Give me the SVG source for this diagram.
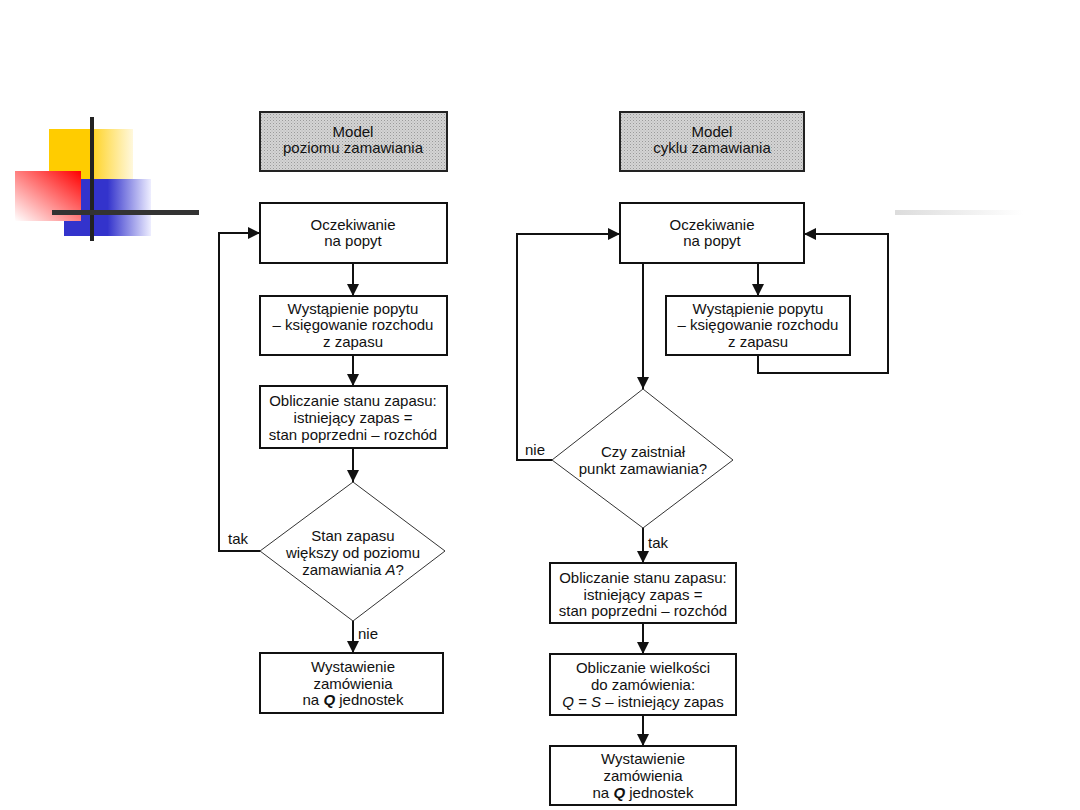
<svg xmlns="http://www.w3.org/2000/svg" width="1080" height="810" viewBox="0 0 1080 810">
<defs>
<style>
.box{fill:#fff;stroke:#111;stroke-width:2}
.hdr{fill:url(#stip);stroke:#222;stroke-width:2}
.ln{fill:none;stroke:#111;stroke-width:2}
text{font-family:"Liberation Sans",Arial,sans-serif;font-size:15px;fill:#111;text-anchor:middle}
.lbl{text-anchor:start}
</style>
<pattern id="stip" width="3" height="3" patternUnits="userSpaceOnUse">
<rect width="3" height="3" fill="#d4d4d4"/>
<rect width="1" height="1" fill="#9a9a9a"/>
<rect x="1.5" y="1.5" width="1" height="1" fill="#b0b0b0"/>
</pattern>
<marker id="ah" viewBox="0 0 10 10" refX="10" refY="5" markerWidth="6" markerHeight="6" orient="auto" markerUnits="strokeWidth">
<path d="M0,0 L10,5 L0,10 z" fill="#111"/>
</marker>
<linearGradient id="gy" x1="0" y1="0" x2="1" y2="0">
<stop offset="0" stop-color="#ffcc00"/><stop offset="0.5" stop-color="#ffcc00"/><stop offset="0.55" stop-color="#ffd633"/><stop offset="1" stop-color="#fff8dd"/>
</linearGradient>
<linearGradient id="gr" x1="1" y1="0" x2="0" y2="1">
<stop offset="0" stop-color="#ff0000"/><stop offset="1" stop-color="#ffffff"/>
</linearGradient>
<linearGradient id="gb" x1="0" y1="0" x2="1" y2="0">
<stop offset="0" stop-color="#3333cc"/><stop offset="0.5" stop-color="#3333cc"/><stop offset="1" stop-color="#eeeeff"/>
</linearGradient>
<linearGradient id="gg" x1="0" y1="0" x2="1" y2="0">
<stop offset="0" stop-color="#dcdcdc"/><stop offset="1" stop-color="#ffffff"/>
</linearGradient>
</defs>
<rect width="1080" height="810" fill="#fff"/>
<g id="decor">
<rect x="49" y="129" width="84" height="50" fill="url(#gy)"/>
<rect x="64" y="179" width="87" height="57" fill="url(#gb)"/>
<rect x="15" y="171" width="66" height="50" fill="url(#gr)"/>
<rect x="90" y="117" width="4" height="124" fill="#222"/>
<rect x="52" y="210" width="147" height="5" fill="#333"/>
<rect x="895" y="210" width="128" height="5" fill="url(#gg)"/>
</g>
<g id="connectors">
<line class="ln" x1="353" y1="263" x2="353" y2="296" marker-end="url(#ah)"/>
<line class="ln" x1="353" y1="355" x2="353" y2="386" marker-end="url(#ah)"/>
<line class="ln" x1="353" y1="448" x2="353" y2="482" marker-end="url(#ah)"/>
<polyline class="ln" points="260,551 219,551 219,233 260,233" marker-end="url(#ah)"/>
<line class="ln" x1="353" y1="621" x2="353" y2="653" marker-end="url(#ah)"/>
<line class="ln" x1="758" y1="263" x2="758" y2="296" marker-end="url(#ah)"/>
<polyline class="ln" points="758,355 758,373 888,373 888,234 804,234" marker-end="url(#ah)"/>
<line class="ln" x1="643" y1="263" x2="643" y2="389" marker-end="url(#ah)"/>
<polyline class="ln" points="552,460 517,460 517,234 620,234" marker-end="url(#ah)"/>
<line class="ln" x1="643" y1="528" x2="643" y2="563" marker-end="url(#ah)"/>
<line class="ln" x1="643" y1="623" x2="643" y2="654" marker-end="url(#ah)"/>
<line class="ln" x1="643" y1="715" x2="643" y2="746" marker-end="url(#ah)"/>
<text class="lbl" x="228" y="544">tak</text>
<text class="lbl" x="358" y="639">nie</text>
<text class="lbl" x="525" y="455">nie</text>
<text class="lbl" x="648" y="548">tak</text>
</g>
<g id="L_header">
<rect class="hdr" x="260" y="112" width="187" height="59"/>
<text x="353" y="137">Model</text><text x="353" y="153">poziomu zamawiania</text>
</g>
<g id="L_wait">
<rect class="box" x="260" y="203" width="187" height="60"/>
<text x="353" y="230">Oczekiwanie</text><text x="353" y="246">na popyt</text>
</g>
<g id="L_demand">
<rect class="box" x="260" y="296" width="187" height="59"/>
<text x="353" y="314">Wystąpienie popytu</text><text x="353" y="330">– księgowanie rozchodu</text><text x="353" y="347">z zapasu</text>
</g>
<g id="L_calc">
<rect class="box" x="260" y="386" width="187" height="62"/>
<text x="353" y="406">Obliczanie stanu zapasu:</text><text x="353" y="423">istniejący zapas =</text><text x="353" y="440">stan poprzedni – rozchód</text>
</g>
<g id="L_decision">
<polygon points="353,482 445,551 353,621 260,551" fill="#fff" stroke="#333" stroke-width="1"/>
<text x="353" y="541">Stan zapasu</text><text x="353" y="558">większy od poziomu</text><text x="353" y="575">zamawiania <tspan font-style="italic">A</tspan>?</text>
</g>
<g id="L_order">
<rect class="box" x="260" y="653" width="183" height="60"/>
<text x="353" y="672">Wystawienie</text><text x="353" y="689">zamówienia</text><text x="353" y="705">na <tspan font-style="italic" font-weight="bold">Q</tspan> jednostek</text>
</g>
<g id="R_header">
<rect class="hdr" x="620" y="112" width="184" height="59"/>
<text x="712" y="137">Model</text><text x="712" y="153">cyklu zamawiania</text>
</g>
<g id="R_wait">
<rect class="box" x="620" y="203" width="184" height="60"/>
<text x="712" y="230">Oczekiwanie</text><text x="712" y="246">na popyt</text>
</g>
<g id="R_demand">
<rect class="box" x="666" y="296" width="184" height="59"/>
<text x="758" y="314">Wystąpienie popytu</text><text x="758" y="330">– księgowanie rozchodu</text><text x="758" y="347">z zapasu</text>
</g>
<g id="R_decision">
<polygon points="643,389 733,460 643,528 552,460" fill="#fff" stroke="#333" stroke-width="1"/>
<text x="643" y="457">Czy zaistniał</text><text x="643" y="474">punkt zamawiania?</text>
</g>
<g id="R_calc">
<rect class="box" x="550" y="563" width="186" height="60"/>
<text x="643" y="583">Obliczanie stanu zapasu:</text><text x="643" y="600">istniejący zapas =</text><text x="643" y="616">stan poprzedni – rozchód</text>
</g>
<g id="R_qty">
<rect class="box" x="550" y="654" width="186" height="61"/>
<text x="643" y="673">Obliczanie wielkości</text><text x="643" y="690">do zamówienia:</text><text x="643" y="707"><tspan font-style="italic">Q</tspan> = <tspan font-style="italic">S</tspan> – istniejący zapas</text>
</g>
<g id="R_order">
<rect class="box" x="550" y="746" width="186" height="59"/>
<text x="643" y="764">Wystawienie</text><text x="643" y="781">zamówienia</text><text x="643" y="798">na <tspan font-style="italic" font-weight="bold">Q</tspan> jednostek</text>
</g>
</svg>
